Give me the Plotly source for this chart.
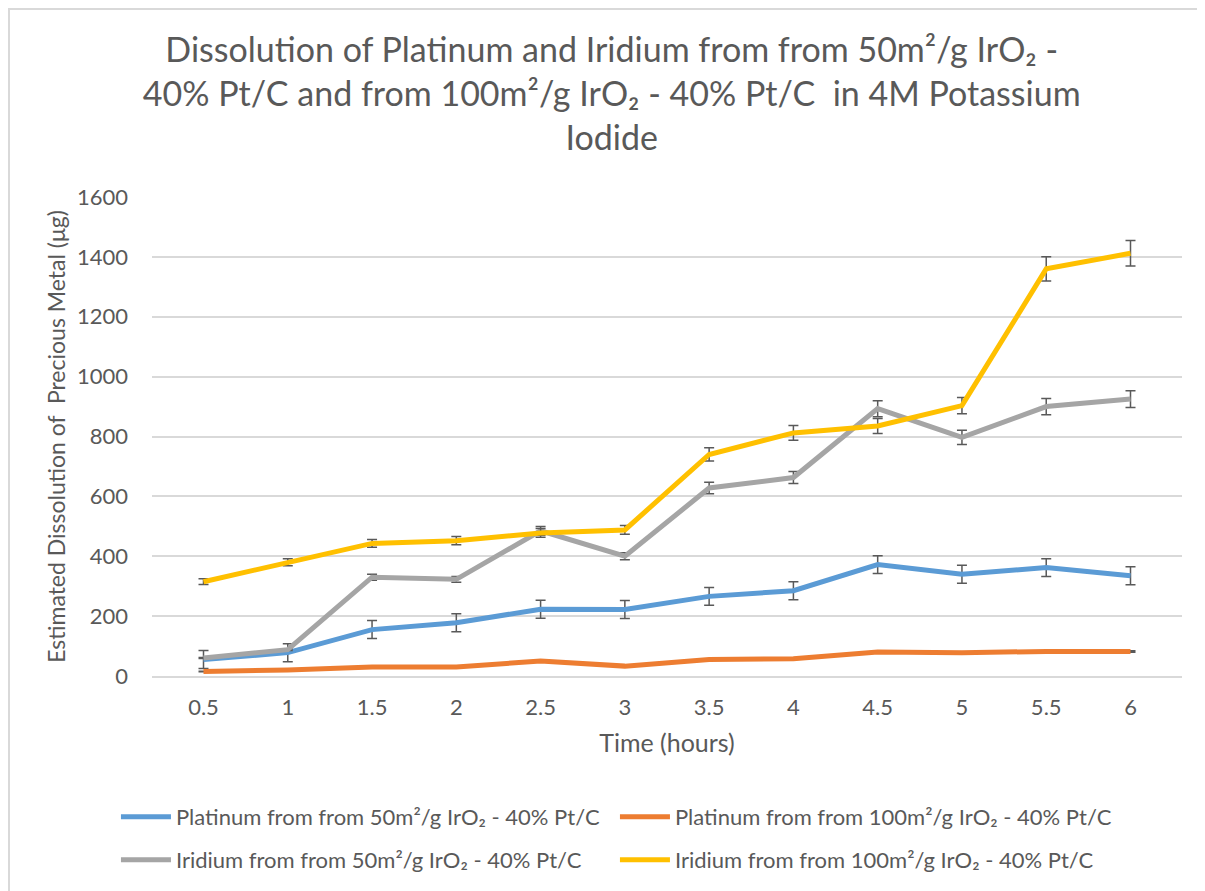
import plotly.graph_objects as go

hours = ["0.5", "1", "1.5", "2", "2.5", "3", "3.5", "4", "4.5", "5", "5.5", "6"]

pt_50 = [55, 78, 155, 178, 223, 222, 266, 285, 372, 340, 362, 335]
pt_100 = [15, 20, 30, 30, 50, 33, 55, 58, 80, 78, 82, 82]
ir_50 = [60, 88, 330, 323, 485, 400, 628, 663, 893, 797, 900, 925]
ir_100 = [315, 380, 443, 452, 478, 488, 740, 812, 835, 903, 1360, 1412]

pt_50_err = 30      # fixed error (µg)
pct_err = 3         # percent error for the others

names = [
    "Platinum from from 50m²/g IrO₂ - 40% Pt/C",
    "Platinum from from 100m²/g IrO₂ - 40% Pt/C",
    "Iridium from from 50m²/g IrO₂ - 40% Pt/C",
    "Iridium from from 100m²/g IrO₂ - 40% Pt/C",
]
colors = ["#5B9BD5", "#ED7D31", "#A5A5A5", "#FFC000"]

FONT = "Lato, Calibri, 'Noto Sans', sans-serif"
TXT = "#595959"

fig = go.Figure()
for name, vals, col, err, leg in [
    (names[0], pt_50, colors[0], dict(type="constant", value=pt_50_err), "legend"),
    (names[1], pt_100, colors[1], dict(type="percent", value=pct_err), "legend"),
    (names[2], ir_50, colors[2], dict(type="percent", value=pct_err), "legend2"),
    (names[3], ir_100, colors[3], dict(type="percent", value=pct_err), "legend2"),
]:
    fig.add_trace(go.Scatter(
        x=hours, y=vals, name=name, mode="lines", legend=leg,
        line=dict(color=col, width=5),
        error_y=dict(**err, color=TXT, thickness=1.5, width=5),
    ))

# light border around the chart
fig.add_shape(type="rect", xref="paper", yref="paper",
              x0=(1 - 144) / 1030, y0=-0.6, x1=1.05, y1=(668 - 1) / 479,
              line=dict(color="#d9d9d9", width=2), layer="below")

leg_common = dict(
    orientation="h", xanchor="left", yanchor="middle",
    entrywidth=434, entrywidthmode="pixels",
    font=dict(size=22, color=TXT), itemwidth=50, bgcolor="rgba(0,0,0,0)",
)

fig.update_layout(
    width=1205, height=891,
    paper_bgcolor="white", plot_bgcolor="white",
    font=dict(family=FONT, color=TXT),
    margin=dict(l=144, r=31, t=189, b=223),
    title=dict(
        text="Dissolution of Platinum and Iridium from from 50m²/g IrO₂ -<br>"
             "40% Pt/C and from 100m²/g IrO₂ - 40% Pt/C  in 4M Potassium<br>Iodide",
        x=0.501, xref="container", xanchor="center",
        y=1 - 54 / 891, yref="container", yanchor="top",
        font=dict(size=34, family=FONT, color=TXT),
    ),
    xaxis=dict(
        type="category", automargin=False,
        showgrid=False, showline=True, linecolor="#d9d9d9", linewidth=1.5,
        tickfont=dict(size=22, color=TXT), ticklabelstandoff=11,
        title=dict(text="Time (hours)", font=dict(size=25, color=TXT), standoff=15),
    ),
    yaxis=dict(
        range=[0, 1600], dtick=200, showgrid=True, gridcolor="#d9d9d9", gridwidth=1.5,
        zeroline=False, showline=False, automargin=False,
        tickfont=dict(size=22, color=TXT), ticklabelstandoff=23,
        title=dict(text="Estimated Dissolution of  Precious Metal (μg)",
                   font=dict(size=23, color=TXT), standoff=4),
    ),
    legend=dict(**leg_common, x=-0.035, y=(668 - 809) / 479),
    legend2=dict(**leg_common, x=-0.035, y=(668 - 852) / 479),
    showlegend=True,
)

fig.write_html("out.html")
